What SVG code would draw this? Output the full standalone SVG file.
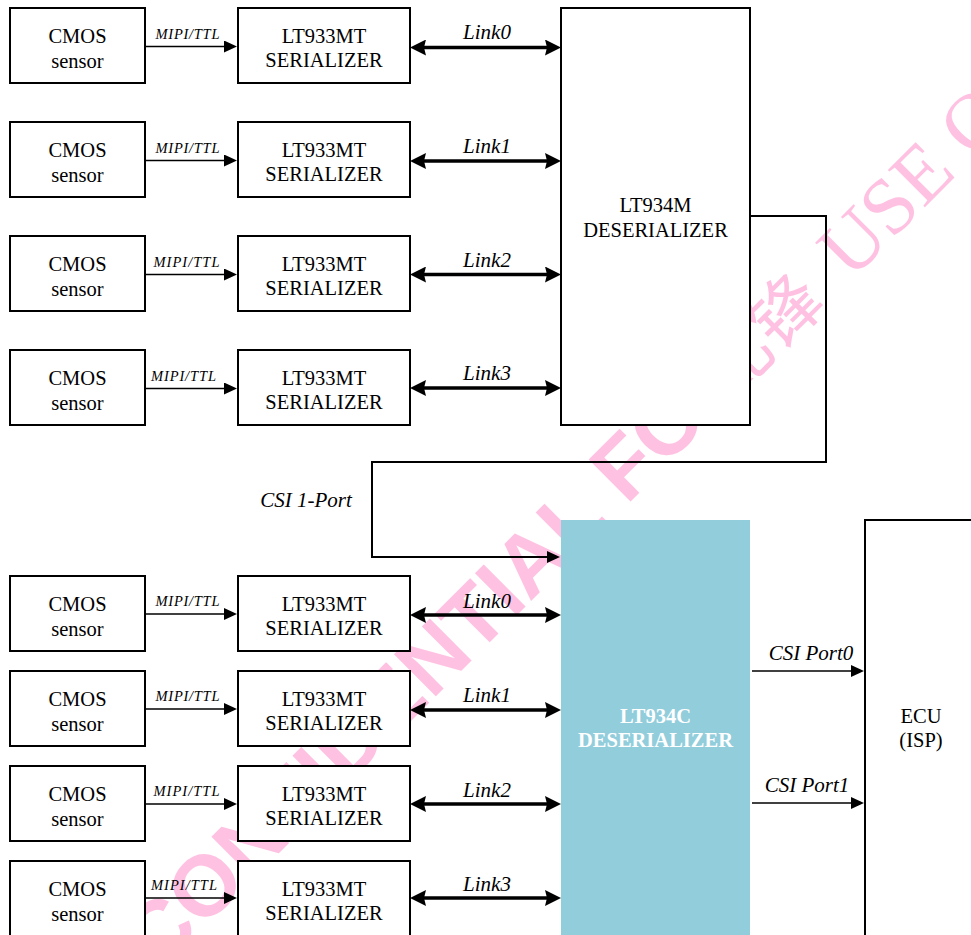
<svg xmlns="http://www.w3.org/2000/svg" width="971" height="935" viewBox="0 0 971 935">
<style>
.box{fill:#fff;stroke:#000;stroke-width:2}
.t{font-family:"Liberation Serif","Times New Roman",serif;font-size:20.5px;fill:#000;text-anchor:middle}
.lbl{font-family:"Liberation Serif","Times New Roman",serif;font-style:italic;font-size:21px;fill:#000;text-anchor:middle}
.mipi{font-family:"Liberation Serif","Times New Roman",serif;font-style:italic;font-size:14.5px;fill:#000;text-anchor:middle}
.thin{stroke:#000;stroke-width:1.6;fill:none;marker-end:url(#ah)}
.link{stroke:#000;stroke-width:3.5;fill:none;marker-start:url(#lh);marker-end:url(#lh)}
.wire{stroke:#000;stroke-width:2;fill:none}
.wm{fill:#FFC1E2}
</style>
<defs>
<marker id="ah" markerUnits="userSpaceOnUse" markerWidth="13" markerHeight="12" viewBox="0 0 13 12" refX="1" refY="6" orient="auto">
<path d="M0,0 L13,6 L0,12 Z" fill="#000"/>
</marker>
<marker id="lh" markerUnits="userSpaceOnUse" markerWidth="16" markerHeight="16" viewBox="0 0 16 16" refX="2" refY="8" orient="auto-start-reverse">
<path d="M0,0 L16,8 L0,16 L2,8 Z" fill="#000"/>
</marker>
</defs>
<rect x="0" y="0" width="971" height="935" fill="#fff"/>

<g id="watermark">
<text class="wm" transform="translate(158 974) rotate(-45)" x="0" y="0" font-family="'Liberation Sans',Arial,sans-serif" font-weight="bold" font-size="86">CONFIDENTIAL FOR<tspan dx="-36" font-family="'Liberation Serif','Noto Sans CJK SC',serif" font-weight="normal" font-size="70">比锋</tspan><tspan dx="12" font-family="'Liberation Serif','Times New Roman',serif" font-weight="normal" font-size="80"> USE ONLY</tspan></text>
</g>

<g id="connectors">
<line class="thin" x1="145" y1="46.5" x2="225" y2="46.5"/>
<line class="thin" x1="145" y1="160.5" x2="225" y2="160.5"/>
<line class="thin" x1="145" y1="274.5" x2="225" y2="274.5"/>
<line class="thin" x1="145" y1="388.5" x2="225" y2="388.5"/>
<line class="link" x1="424" y1="47.5" x2="547" y2="47.5"/>
<line class="link" x1="424" y1="161" x2="547" y2="161"/>
<line class="link" x1="424" y1="274.5" x2="547" y2="274.5"/>
<line class="link" x1="424" y1="388" x2="547" y2="388"/>
<polyline class="wire" points="750,216 826,216 826,462 372,462 372,557 548,557" marker-end="url(#ah)"/>
<line class="thin" x1="145" y1="614" x2="225" y2="614"/>
<line class="thin" x1="145" y1="709" x2="225" y2="709"/>
<line class="thin" x1="145" y1="804" x2="225" y2="804"/>
<line class="thin" x1="145" y1="898" x2="225" y2="898"/>
<line class="link" x1="424" y1="615" x2="547" y2="615"/>
<line class="link" x1="424" y1="710" x2="547" y2="710"/>
<line class="link" x1="424" y1="804" x2="547" y2="804"/>
<line class="link" x1="424" y1="898" x2="547" y2="898"/>
<line class="thin" x1="752" y1="671" x2="852" y2="671"/>
<line class="thin" x1="752" y1="803" x2="852" y2="803"/>
<text class="mipi" x="187.5" y="38.5" textLength="64" lengthAdjust="spacing">MIPI/TTL</text>
<text class="mipi" x="187.5" y="152.5" textLength="64" lengthAdjust="spacing">MIPI/TTL</text>
<text class="mipi" x="186.5" y="266.5" textLength="66" lengthAdjust="spacing">MIPI/TTL</text>
<text class="mipi" x="183.5" y="380.5" textLength="65" lengthAdjust="spacing">MIPI/TTL</text>
<text class="mipi" x="187.5" y="606" textLength="64" lengthAdjust="spacing">MIPI/TTL</text>
<text class="mipi" x="187.5" y="701" textLength="64" lengthAdjust="spacing">MIPI/TTL</text>
<text class="mipi" x="186.5" y="796" textLength="66" lengthAdjust="spacing">MIPI/TTL</text>
<text class="mipi" x="184" y="890" textLength="66" lengthAdjust="spacing">MIPI/TTL</text>
<text class="lbl" x="487" y="39">Link0</text>
<text class="lbl" x="487" y="153">Link1</text>
<text class="lbl" x="487" y="266.5">Link2</text>
<text class="lbl" x="487" y="380">Link3</text>
<text class="lbl" x="487" y="608">Link0</text>
<text class="lbl" x="487" y="702">Link1</text>
<text class="lbl" x="487" y="797">Link2</text>
<text class="lbl" x="487" y="891">Link3</text>
<text class="lbl" x="306" y="507">CSI 1-Port</text>
<text class="lbl" x="811" y="660">CSI Port0</text>
<text class="lbl" x="807" y="791.5">CSI Port1</text>
</g>

<g id="cmos0"><rect class="box" x="10" y="8" width="135" height="75"/><text class="t" x="77.5" y="43">CMOS</text><text class="t" x="77.5" y="68">sensor</text></g>
<g id="cmos1"><rect class="box" x="10" y="122" width="135" height="75"/><text class="t" x="77.5" y="157">CMOS</text><text class="t" x="77.5" y="182">sensor</text></g>
<g id="cmos2"><rect class="box" x="10" y="236" width="135" height="75"/><text class="t" x="77.5" y="271">CMOS</text><text class="t" x="77.5" y="296">sensor</text></g>
<g id="cmos3"><rect class="box" x="10" y="350" width="135" height="75"/><text class="t" x="77.5" y="385">CMOS</text><text class="t" x="77.5" y="410">sensor</text></g>

<g id="ser0"><rect class="box" x="238" y="8" width="172" height="75"/><text class="t" x="324" y="43">LT933MT</text><text class="t" x="324" y="67">SERIALIZER</text></g>
<g id="ser1"><rect class="box" x="238" y="122" width="172" height="75"/><text class="t" x="324" y="157">LT933MT</text><text class="t" x="324" y="181">SERIALIZER</text></g>
<g id="ser2"><rect class="box" x="238" y="236" width="172" height="75"/><text class="t" x="324" y="271">LT933MT</text><text class="t" x="324" y="295">SERIALIZER</text></g>
<g id="ser3"><rect class="box" x="238" y="350" width="172" height="75"/><text class="t" x="324" y="385">LT933MT</text><text class="t" x="324" y="409">SERIALIZER</text></g>

<g id="lt934m"><rect class="box" x="561" y="8" width="189" height="417"/><text class="t" x="655.5" y="212">LT934M</text><text class="t" x="655.5" y="237">DESERIALIZER</text></g>

<g id="cmos4"><rect class="box" x="10" y="576" width="135" height="75"/><text class="t" x="77.5" y="611">CMOS</text><text class="t" x="77.5" y="636">sensor</text></g>
<g id="cmos5"><rect class="box" x="10" y="671" width="135" height="75"/><text class="t" x="77.5" y="706">CMOS</text><text class="t" x="77.5" y="731">sensor</text></g>
<g id="cmos6"><rect class="box" x="10" y="766" width="135" height="75"/><text class="t" x="77.5" y="801">CMOS</text><text class="t" x="77.5" y="826">sensor</text></g>
<g id="cmos7"><rect class="box" x="10" y="861" width="135" height="80"/><text class="t" x="77.5" y="896">CMOS</text><text class="t" x="77.5" y="921">sensor</text></g>

<g id="ser4"><rect class="box" x="238" y="576" width="172" height="75"/><text class="t" x="324" y="611">LT933MT</text><text class="t" x="324" y="635">SERIALIZER</text></g>
<g id="ser5"><rect class="box" x="238" y="671" width="172" height="75"/><text class="t" x="324" y="706">LT933MT</text><text class="t" x="324" y="730">SERIALIZER</text></g>
<g id="ser6"><rect class="box" x="238" y="766" width="172" height="75"/><text class="t" x="324" y="801">LT933MT</text><text class="t" x="324" y="825">SERIALIZER</text></g>
<g id="ser7"><rect class="box" x="238" y="861" width="172" height="80"/><text class="t" x="324" y="896">LT933MT</text><text class="t" x="324" y="920">SERIALIZER</text></g>

<g id="lt934c"><rect x="561" y="520" width="189" height="420" fill="#92CDDC"/><text class="t" x="655.5" y="723" style="fill:#fff;font-weight:bold">LT934C</text><text class="t" x="655.5" y="747" style="fill:#fff;font-weight:bold">DESERIALIZER</text></g>

<g id="ecu"><rect class="box" x="865" y="520" width="130" height="430"/><text class="t" x="921" y="723">ECU</text><text class="t" x="921" y="747">(ISP)</text></g>
</svg>
